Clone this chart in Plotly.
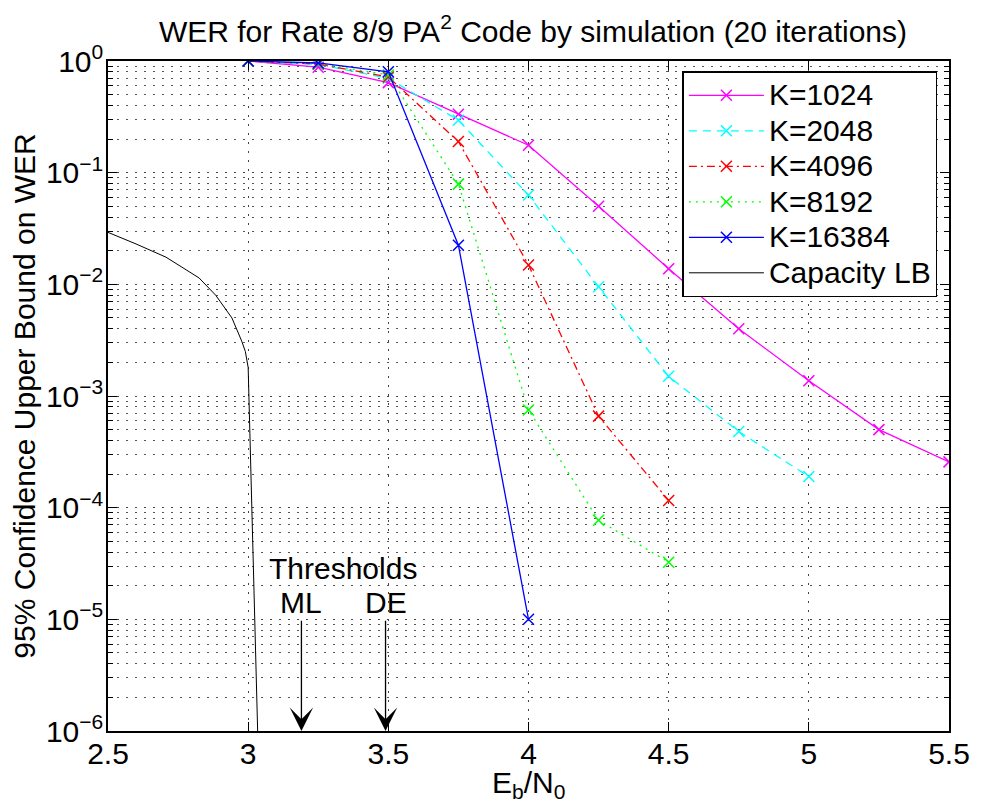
import plotly.graph_objects as go

# Eb/N0 points (dB)
ebn0 = [3.0, 3.25, 3.5, 3.75, 4.0, 4.25, 4.5, 4.75, 5.0, 5.25, 5.5]

wer_1024 = [1.0, 0.88, 0.64, 0.333, 0.176, 0.05, 0.0138, 0.004, 0.00137, 0.0005, 0.000257]
wer_2048 = [1.0, 0.93, 0.70, 0.295, 0.063, 0.0095, 0.0015, 0.00048, 0.00019]
wer_4096 = [1.0, 0.94, 0.72, 0.19, 0.0149, 0.00066, 0.000116]
wer_8192 = [1.0, 0.95, 0.75, 0.079, 0.00075, 0.000077, 0.0000325]
wer_16384 = [1.0, 0.96, 0.80, 0.0224, 0.00001]

cap_x = [2.5, 2.6, 2.707, 2.825, 2.884, 2.942, 2.977, 2.99, 3.0, 3.034, 3.038]
cap_y = [0.0292, 0.023, 0.0175, 0.0114, 0.008, 0.005, 0.0031, 0.0025, 0.0018, 1e-6, 4e-7]

thresh_ml = 3.19
thresh_de = 3.49

fnt = "Liberation Sans, Arial, Helvetica, sans-serif"
fs = 30


def leg(txt):
    # bigger glyphs than the legend row height allows (matlab packs them tight)
    return "<span style='font-size:30px'>" + txt + "</span>"


fig = go.Figure()

series = [
    ("K=1024", wer_1024, "#ff00ff", "solid"),
    ("K=2048", wer_2048, "#00ffff", "8px,6px"),
    ("K=4096", wer_4096, "#ff0000", "8px,4px,2px,4px"),
    ("K=8192", wer_8192, "#00ff00", "2px,5px"),
    ("K=16384", wer_16384, "#0000ff", "solid"),
]
for name, vals, col, dash in series:
    fig.add_trace(go.Scatter(
        x=ebn0[:len(vals)], y=vals, name=leg(name), mode="lines+markers",
        line=dict(color=col, width=1.3, dash=dash),
        marker=dict(symbol="x-thin", size=11, line=dict(width=1.5, color=col)),
    ))

fig.add_trace(go.Scatter(x=cap_x, y=cap_y, name=leg("Capacity LB"), mode="lines",
                         line=dict(color="black", width=1)))

# minor log grid positions
minor_vals = [k * 10.0 ** e for e in range(-6, 0) for k in range(2, 10)]

grid = dict(showgrid=True, gridcolor="#444", griddash="1.5px,7.5px", gridwidth=1)

fig.update_xaxes(
    range=[2.5, 5.5], tickvals=[2.5, 3, 3.5, 4, 4.5, 5, 5.5],
    ticktext=["2.5", "3", "3.5", "4", "4.5", "5", "5.5"],
    showline=True, linecolor="black", linewidth=1.5, mirror="allticks",
    ticks="inside", ticklen=9, tickcolor="black", ticklabelstandoff=-5,
    zeroline=False, tickfont=dict(size=fs, color="black"),
    **grid,
)
fig.update_yaxes(
    type="log", range=[-6, 0],
    tickvals=[1e-6, 1e-5, 1e-4, 1e-3, 1e-2, 1e-1, 1],
    ticktext=["10<sup>−6</sup>", "10<sup>−5</sup>", "10<sup>−4</sup>", "10<sup>−3</sup>",
              "10<sup>−2</sup>", "10<sup>−1</sup>", "10<sup>0</sup>"],
    showline=True, linecolor="black", linewidth=1.5, mirror="allticks",
    ticks="inside", ticklen=9, tickcolor="black", ticklabelstandoff=-3,
    minor=dict(tickvals=minor_vals, ticks="inside", ticklen=5, tickcolor="black",
               showgrid=True, gridcolor="#555", griddash="1.5px,7.5px", gridwidth=1),
    zeroline=False, tickfont=dict(size=fs, color="black"),
    title=dict(text="95% Confidence Upper Bound on WER", font=dict(size=fs, color="black"), standoff=4),
    **grid,
)

# x-axis label placed by hand so the subscripts stay on the page
fig.add_annotation(x=0.5, y=0, xref="paper", yref="paper", yanchor="top", yshift=-33,
                   text="E<sub>b</sub>/N<sub>0</sub>", showarrow=False,
                   font=dict(size=fs, color="black"))

for xv, lab in [(thresh_ml, "ML"), (thresh_de, "DE")]:
    fig.add_annotation(x=xv, y=-6, ax=xv, ay=-5, xref="x", yref="y", axref="x", ayref="y",
                       showarrow=True, arrowhead=3, arrowsize=3, arrowwidth=1.3,
                       arrowcolor="black", text="")
    fig.add_annotation(x=xv, y=-5, xref="x", yref="y", text=lab, showarrow=False,
                       yanchor="bottom", yshift=-2, font=dict(size=fs, color="black"))
fig.add_annotation(x=(thresh_ml + thresh_de) / 2, y=-5, xref="x", yref="y", text="Thresholds",
                   showarrow=False, yanchor="bottom", yshift=32, font=dict(size=fs, color="black"))

# page body adds an 8px margin, so the figure is 8px smaller than the window
fig.update_layout(
    width=974, height=799,
    margin=dict(l=100, r=24, t=53, b=76),
    paper_bgcolor="white", plot_bgcolor="white",
    font=dict(family=fnt, color="black"),
    title=dict(text="WER for Rate 8/9 PA<sup>2</sup> Code by simulation (20 iterations)",
               x=0.539, xanchor="center", y=0.971, yanchor="middle",
               font=dict(size=fs, color="black")),
    legend=dict(x=0.683, y=0.985, xanchor="left", yanchor="top",
                bgcolor="white", bordercolor="black", borderwidth=1.5,
                font=dict(size=25, color="black"), itemwidth=75, tracegroupgap=0),
    showlegend=True,
)

fig.write_html("out.html")
